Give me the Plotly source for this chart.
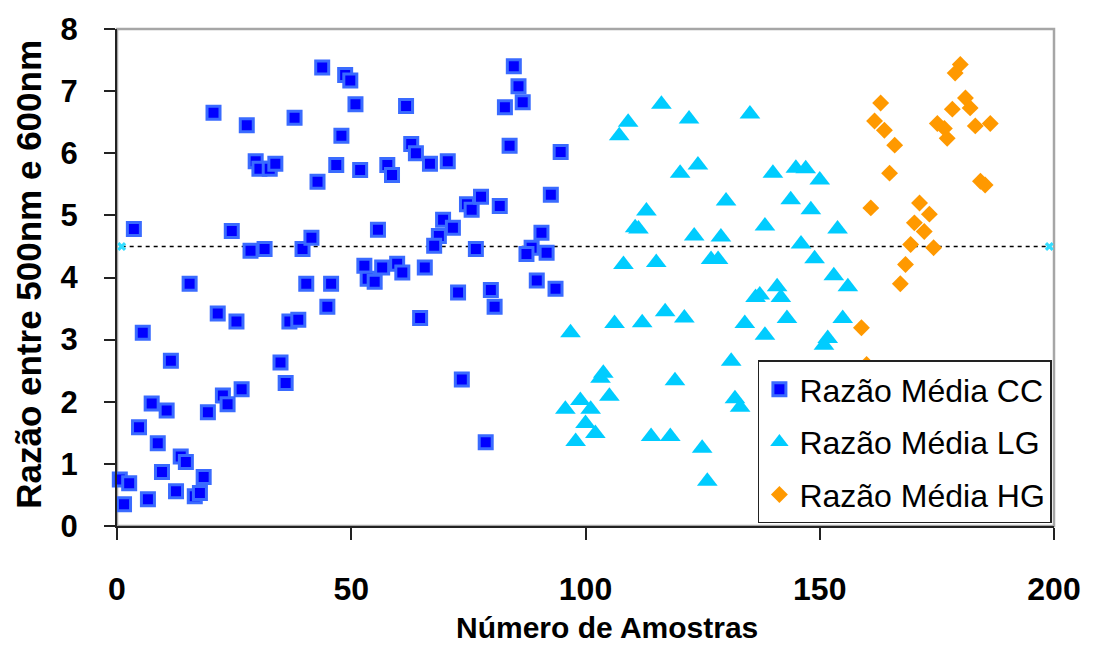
import plotly.graph_objects as go

# ---- data ----
cc_x = [0.6, 2.6, 1.5, 6.6, 5.5, 11.5, 7.4, 10.6, 4.7, 8.7, 13.6, 14.7, 9.6, 12.6, 18.5, 16.6, 17.7,
        15.5, 21.5, 25.5, 19.4, 22.6, 23.6, 26.6, 34.9, 36.0, 36.8, 38.7, 40.4, 3.6, 20.6, 27.7, 37.9,
        29.6, 30.4, 32.6, 33.8, 24.5, 28.5, 31.5, 39.6, 41.5, 43.8, 48.7, 49.8, 50.9, 61.7, 47.9, 46.8,
        42.8, 51.9, 57.7, 58.7, 62.8, 63.8, 66.8, 70.6, 84.7, 85.7, 86.6, 82.8, 83.8, 74.7, 75.7, 77.7,
        81.7, 55.7, 69.6, 71.7, 68.7, 67.7, 76.6, 52.8, 53.5, 55.0, 56.6, 59.8, 60.9, 65.7, 45.7, 44.9,
        64.7, 72.8, 79.8, 80.6, 73.6, 78.7, 94.7, 92.6, 90.6, 88.5, 87.4, 91.7, 89.6, 93.6]
cc_y = [0.75, 0.69, 0.35, 0.43, 3.11, 2.66, 1.97, 1.86, 1.59, 1.33, 1.12, 1.03, 0.87, 0.56, 0.79, 0.48, 0.53,
        3.90, 3.42, 3.29, 1.83, 2.10, 1.96, 2.20, 2.63, 2.30, 3.29, 3.32, 3.90, 4.78, 6.65, 6.45, 6.57,
        5.87, 5.75, 5.75, 5.83, 4.75, 4.43, 4.46, 4.46, 4.64, 7.38, 7.26, 7.17, 6.79, 6.76, 6.28, 5.81,
        5.54, 5.73, 5.81, 5.65, 6.15, 6.00, 5.83, 5.87, 7.40, 7.08, 6.82, 6.74, 6.12, 5.18, 5.09, 5.30,
        5.15, 4.77, 4.93, 4.80, 4.67, 4.51, 4.46, 4.19, 3.98, 3.93, 4.16, 4.22, 4.08, 4.16, 3.90, 3.53,
        3.35, 3.76, 3.80, 3.53, 2.36, 1.35, 6.02, 5.33, 4.72, 4.48, 4.38, 4.40, 3.95, 3.82]

lg_x = [116.2, 109.1, 107.2, 122.1, 135.1, 120.2, 124.0, 130.0, 113.0, 110.6, 111.3, 123.2, 128.9, 138.3,
        108.1, 115.1, 126.8, 128.3, 136.3, 137.2, 96.8, 106.2, 112.1, 117.0, 121.1, 134.0, 138.3, 131.1,
        119.1, 103.8, 103.2, 105.1, 98.9, 95.7, 101.1, 100.0, 102.1, 97.9, 114.0, 118.1, 124.9, 126.0,
        131.9, 133.0, 140.0, 144.9, 147.0, 150.0, 143.8, 148.1, 153.8, 146.0, 148.9, 153.0, 156.0, 140.9,
        141.7, 143.0, 154.9, 151.7, 150.9]
lg_y = [6.79, 6.50, 6.28, 6.55, 6.63, 5.68, 5.81, 5.23, 5.07, 4.80, 4.78, 4.67, 4.65, 4.83,
        4.21, 4.24, 4.29, 4.29, 3.68, 3.72, 3.11, 3.26, 3.27, 3.45, 3.35, 3.26, 3.07, 2.65,
        2.34, 2.46, 2.38, 2.09, 2.02, 1.88, 1.88, 1.65, 1.49, 1.36, 1.44, 1.44, 1.25, 0.72,
        2.05, 1.91, 5.68, 5.76, 5.75, 5.57, 5.25, 5.09, 4.78, 4.54, 4.30, 4.03, 3.85, 3.85,
        3.68, 3.34, 3.34, 3.02, 2.91]

hg_x = [180.0, 178.9, 163.0, 161.7, 163.8, 166.0, 164.9, 160.9, 178.3, 181.1, 182.1, 175.1, 176.6, 177.2,
        183.2, 186.4, 184.3, 185.3, 171.3, 173.4, 170.2, 172.3, 169.4, 174.3, 168.3, 167.2, 158.9, 160.0]
hg_y = [7.43, 7.29, 6.81, 6.52, 6.37, 6.13, 5.68, 5.12, 6.71, 6.89, 6.73, 6.48, 6.40, 6.24,
        6.44, 6.48, 5.55, 5.49, 5.20, 5.02, 4.88, 4.74, 4.53, 4.48, 4.21, 3.90, 3.19, 2.60]

ref_x = [1, 199]
ref_y = [4.5, 4.5]

x_ticks = [0, 50, 100, 150, 200]
y_ticks = [0, 1, 2, 3, 4, 5, 6, 7, 8]

names = ["Razão Média CC", "Razão Média LG", "Razão Média HG"]
x_title = "Número de Amostras"
y_title = "Razão entre 500nm e 600nm"

FONT = "Liberation Sans, Arial, sans-serif"

fig = go.Figure()

fig.add_trace(go.Scatter(
    x=ref_x, y=ref_y, mode="lines+markers", showlegend=False, cliponaxis=False,
    line=dict(color="black", width=1.5, dash="4px,4px"),
    marker=dict(symbol="x", size=8, color="#33ddff", line=dict(width=0)),
    hoverinfo="skip"))

fig.add_trace(go.Scatter(
    x=cc_x, y=cc_y, mode="markers", name=names[0], legendgroup="cc", cliponaxis=False,
    marker=dict(symbol="square", size=13, color="#0000ff", line=dict(color="#3a6bff", width=3))))

fig.add_trace(go.Scatter(
    x=lg_x, y=lg_y, mode="markers", name=names[1], legendgroup="lg", cliponaxis=False,
    marker=dict(symbol="triangle-up", size=18, color="#00ccff", line=dict(width=0))))

fig.add_trace(go.Scatter(
    x=hg_x, y=hg_y, mode="markers", name=names[2], legendgroup="hg", cliponaxis=False,
    marker=dict(symbol="diamond", size=13, color="#ff9900", line=dict(width=0))))

# gray frame around plot area
fig.add_shape(type="rect", xref="x domain", yref="y domain", x0=0, x1=1, y0=0, y1=1,
              line=dict(color="#a6a6a6", width=2.5), layer="below")

fig.add_annotation(text=x_title, xref="paper", yref="paper", x=0.523, y=-0.205,
                   xanchor="center", yanchor="middle", showarrow=False,
                   font=dict(family=FONT, size=30, color="black", weight="bold"))
fig.add_annotation(text=y_title, xref="paper", yref="paper", x=-0.0947, y=0.506,
                   xanchor="center", yanchor="middle", showarrow=False, textangle=-90,
                   font=dict(family=FONT, size=35, color="black", weight="bold"))

fig.update_layout(
    width=1093, height=648,
    margin=dict(l=117, r=36, t=28, b=122),
    paper_bgcolor="white", plot_bgcolor="white",
    font=dict(family=FONT, color="black"),
    legend=dict(x=0.684, y=0.333, xanchor="left", yanchor="top",
                bgcolor="white", bordercolor="#222", borderwidth=1.5,
                font=dict(family=FONT, size=32, color="black"),
                tracegroupgap=8, traceorder="grouped"),
    xaxis=dict(range=[0, 200], tickvals=x_ticks, ticktext=[str(v) for v in x_ticks],
               showgrid=False, zeroline=False, showline=True, linecolor="#222", linewidth=2,
               ticks="outside", ticklen=12, tickwidth=2, tickcolor="#222",
               ticklabelstandoff=22,
               tickfont=dict(family=FONT, size=32, color="black", weight="bold")),
    yaxis=dict(range=[0, 8], tickvals=y_ticks, ticktext=[str(v) for v in y_ticks],
               showgrid=False, zeroline=False, showline=True, linecolor="#222", linewidth=2,
               ticks="outside", ticklen=11, tickwidth=2, tickcolor="#222",
               ticklabelstandoff=20,
               tickfont=dict(family=FONT, size=31, color="black", weight="bold")),
)

fig.write_html("out.html")
